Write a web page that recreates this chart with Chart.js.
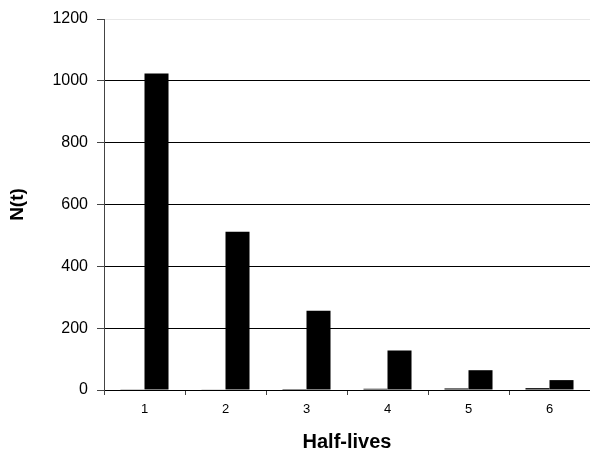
<!DOCTYPE html>
<html>
<head>
<meta charset="utf-8">
<script src="https://cdn.jsdelivr.net/npm/chart.js@4/dist/chart.umd.min.js"></script>
<style>
  html, body { margin: 0; padding: 0; background: #fff; }
  #wrap { width: 590px; height: 455px; position: relative; }
</style>
</head>
<body>
<div id="wrap"><canvas id="decay-chart"></canvas></div>
<script>
// half-life number and remaining nuclei after each half-life
const halfLives = ['1', '2', '3', '4', '5', '6'];
const elapsed = [1, 2, 3, 4, 5, 6];
const remaining = [1024, 512, 256, 128, 64, 32];
const yTicks = [0, 200, 400, 600, 800, 1000, 1200];

const fontFamily = '"Liberation Sans", Arial, sans-serif';

const ctx = document.getElementById('decay-chart').getContext('2d');
const decayChart = new Chart(ctx, {
    type: 'bar',
    data: {
        labels: halfLives,
        datasets: [{
            label: 'Half-lives',
            data: elapsed,
            backgroundColor: '#000',
            categoryPercentage: 0.593,
            barPercentage: 1.0
        }, {
            label: 'N(t)',
            data: remaining,
            backgroundColor: '#000',
            categoryPercentage: 0.593,
            barPercentage: 1.0
        }]
    },
    options: {
        responsive: true,
        maintainAspectRatio: false,
        animation: false,
        layout: { padding: { top: 19, right: 0, bottom: 0, left: 0 } },
        plugins: {
            legend: { display: false },
            tooltip: { enabled: false }
        },
        scales: {
            x: {
                grid: {
                    offset: true,
                    drawOnChartArea: false,
                    tickLength: 5,
                    tickColor: '#444'
                },
                border: { color: '#000', width: 1 },
                ticks: {
                    color: '#000',
                    padding: 7,
                    font: { family: fontFamily, size: 13 }
                },
                title: {
                    display: true,
                    text: 'Half-lives',
                    color: '#000',
                    font: { family: fontFamily, size: 20, weight: 'bold' },
                    padding: { top: 6, bottom: 1 }
                },
                afterFit: function(scale) { scale.height = 65; }
            },
            y: {
                min: 0,
                max: 1200,
                afterBuildTicks: function(scale) {
                    scale.ticks = yTicks.map(v => ({ value: v }));
                },
                grid: {
                    color: function(c) {
                        return c.tick && c.tick.value === 1200 ? '#e8e8e8' : '#000';
                    },
                    tickColor: '#444',
                    tickLength: 7
                },
                border: { color: '#444', width: 1 },
                ticks: {
                    color: '#000',
                    padding: 9,
                    font: { family: fontFamily, size: 16 },
                    callback: function(value) { return String(value); }
                },
                title: {
                    display: true,
                    text: 'N(t)',
                    color: '#000',
                    font: { family: fontFamily, size: 19, weight: 'bold' },
                    padding: { top: 6, bottom: 0 }
                },
                afterFit: function(scale) { scale.width = 104; }
            }
        }
    }
});
</script>
</body>
</html>
